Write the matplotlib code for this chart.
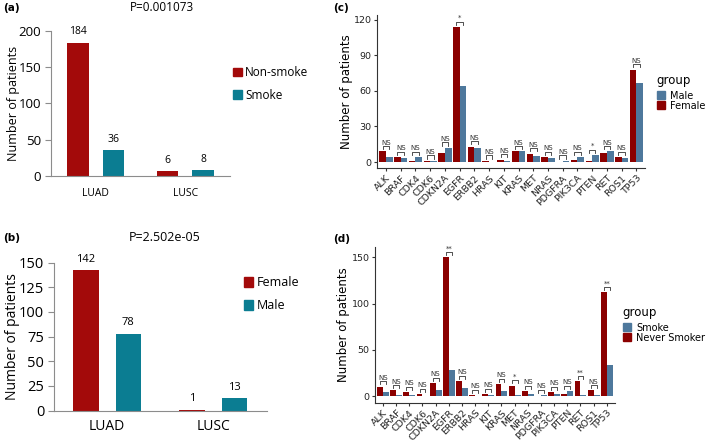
import numpy as np
import matplotlib
matplotlib.use('Agg')
import matplotlib.pyplot as plt
from matplotlib.patches import Patch

# panel (a): smoking status by histology
hist = ['LUAD', 'LUSC']
nonsmoke = [184, 6]
smoke = [36, 8]
p_a = 'P=0.001073'

# panel (b): sex by histology
female_b = [142, 1]
male_b = [78, 13]
p_b = 'P=2.502e-05'

# panels (c),(d): mutated genes
genes = ['ALK', 'BRAF', 'CDK4', 'CDK6', 'CDKN2A', 'EGFR', 'ERBB2', 'HRAS', 'KIT',
         'KRAS', 'MET', 'NRAS', 'PDGFRA', 'PIK3CA', 'PTEN', 'RET', 'ROS1', 'TP53']
female_c = [9, 4, 1, 1, 8, 114, 13, 1, 2, 9, 7, 4, 0, 2, 1, 8, 4, 78]
male_c = [4, 3, 4, 1, 12, 64, 12, 0, 1, 9, 5, 3, 1, 4, 6, 9, 3, 67]
sig_c = ['NS', 'NS', 'NS', 'NS', 'NS', '*', 'NS', 'NS', 'NS',
         'NS', 'NS', 'NS', 'NS', 'NS', '*', 'NS', 'NS', 'NS']
never_d = [10, 6, 4, 2, 14, 150, 16, 1, 2, 13, 11, 5, 0, 4, 2, 16, 6, 112]
smoke_d = [4, 1, 1, 0, 6, 28, 9, 0, 1, 5, 1, 2, 1, 2, 5, 1, 1, 33]
sig_d = ['NS', 'NS', 'NS', 'NS', 'NS', '**', 'NS', 'NS', 'NS',
         'NS', '*', 'NS', 'NS', 'NS', 'NS', '**', 'NS', '**']

RED1, TEAL = '#A30A0A', '#0B7D92'
RED2, BLUE = '#8B0000', '#4E789C'
OS = 'Open Sans'

fig = plt.figure(figsize=(7.09, 4.42), dpi=100)


def excel_panel(rect, v1, v2, labels, ymax, step, fs, title, tag, tx, ty, legxy, ylx):
    ax = fig.add_axes(rect)
    x = np.arange(len(hist))
    w = 0.24
    ax.bar(x - 0.2, v1, w, color=RED1)
    ax.bar(x + 0.2, v2, w, color=TEAL)
    for xi, a, b in zip(x, v1, v2):
        ax.text(xi - 0.2, a + ymax * 0.035, str(a), ha='center', va='bottom',
                fontsize=fs['val'], family=OS)
        ax.text(xi + 0.2, b + ymax * 0.035, str(b), ha='center', va='bottom',
                fontsize=fs['val'], family=OS)
    ax.set_xlim(-0.5, 1.5)
    ax.set_ylim(0, ymax)
    ax.set_yticks(np.arange(0, ymax + 1, step))
    ax.set_xticks(x)
    ax.set_xticklabels(hist)
    for s in ['top', 'right']:
        ax.spines[s].set_visible(False)
    for s in ['left', 'bottom']:
        ax.spines[s].set_color('#8c8c8c')
    ax.tick_params(axis='x', length=0, pad=fs['xpad'], labelsize=fs['x'])
    ax.tick_params(axis='y', color='#8c8c8c', length=4, labelsize=fs['y'], pad=3)
    for t in ax.get_xticklabels() + ax.get_yticklabels():
        t.set_family(OS)
    ax.set_ylabel('Number of patients', fontsize=fs['lab'], family=OS)
    ax.yaxis.set_label_coords(ylx, 0.5)
    fig.text(tx, ty, title, ha='center', va='center', fontsize=fs['title'], family=OS)
    fig.text(0.004, ty, tag, ha='left', va='center', fontsize=7.5, weight='bold')
    ax.legend([Patch(color=RED1), Patch(color=TEAL)], labels, frameon=False,
              loc='center left', bbox_to_anchor=legxy, bbox_transform=fig.transFigure,
              handlelength=0.75, handleheight=0.75, handletextpad=0.25,
              labelspacing=0.8, borderpad=0, borderaxespad=0,
              prop={'family': OS, 'size': fs['leg']})
    return ax


excel_panel([0.072, 0.6025, 0.2525, 0.3275], nonsmoke, smoke, ['Non-smoke', 'Smoke'],
            200, 50, dict(val=7.5, x=7.5, y=9.5, lab=9, title=8.5, leg=8.5, xpad=9),
            p_a, '(a)', 0.228, 0.983, (0.329, 0.81), -0.175)
excel_panel([0.076, 0.071, 0.30, 0.335], female_b, male_b, ['Female', 'Male'],
            150, 25, dict(val=8, x=10, y=10.5, lab=10, title=9, leg=9, xpad=6),
            p_b, '(b)', 0.232, 0.462, (0.344, 0.334), -0.16)


def gg_panel(rect, v_red, v_blue, sig, ylim, ticks, leg_labels, legxy, tag, tagy, ylx):
    ax = fig.add_axes(rect)
    x = np.arange(len(genes))
    w = 0.45
    ax.bar(x - w / 2, v_red, w, color=RED2)
    ax.bar(x + w / 2, v_blue, w, color=BLUE)
    rng = ylim[1] - ylim[0]
    for xi, a, b, s in zip(x, v_red, v_blue, sig):
        yb = max(a, b) + 0.035 * rng
        tip = 0.02 * rng
        ax.plot([xi - w / 2, xi - w / 2, xi + w / 2, xi + w / 2],
                [yb - tip, yb, yb, yb - tip], color='#333333', lw=0.6)
        ax.text(xi, yb + 0.003 * rng, s, ha='center', va='bottom', fontsize=5,
                color='#333333')
    ax.set_xlim(-0.6, len(genes) - 0.4)
    ax.set_ylim(*ylim)
    ax.set_yticks(ticks)
    ax.set_xticks(x)
    ax.set_xticklabels(genes, rotation=45, ha='right', rotation_mode='anchor')
    for s in ['top', 'right']:
        ax.spines[s].set_visible(False)
    for s in ['left', 'bottom']:
        ax.spines[s].set_color('#333333')
        ax.spines[s].set_linewidth(0.8)
    ax.tick_params(axis='both', labelsize=6.8, length=2.5, color='#333333',
                   labelcolor='#222222', pad=1.5)
    ax.set_ylabel('Number of patients', fontsize=8.5)
    ax.yaxis.set_label_coords(ylx, 0.5)
    fig.text(0.47, tagy, tag, ha='left', va='center', fontsize=7.5, weight='bold')
    fig.text(legxy[0], legxy[1], 'group', ha='left', va='center', fontsize=8.5)
    ax.legend([Patch(color=BLUE), Patch(color=RED2)], leg_labels, frameon=False,
              loc='upper left', bbox_to_anchor=(legxy[0], legxy[2]),
              bbox_transform=fig.transFigure, handlelength=0.9, handleheight=0.9,
              handletextpad=0.5, labelspacing=0.0, fontsize=7, borderaxespad=0,
              borderpad=0)
    return ax


gg_panel([0.532, 0.62, 0.378, 0.346], female_c, male_c, sig_c, (-5, 124),
         [0, 30, 60, 90, 120], ['Male', 'Female'], (0.926, 0.819, 0.795), '(c)', 0.983,
         -0.09)
gg_panel([0.529, 0.089, 0.338, 0.353], never_d, smoke_d, sig_d, (-7.2, 161.5),
         [0, 50, 100, 150], ['Smoke', 'Never Smoker'], (0.878, 0.292, 0.27), '(d)', 0.46,
         -0.105)

fig.savefig('out.png', dpi=100)
